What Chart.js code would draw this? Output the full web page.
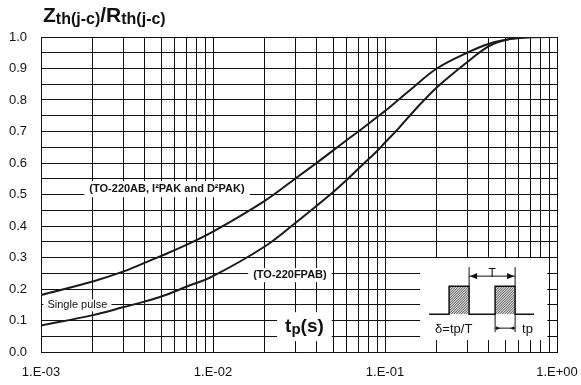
<!DOCTYPE html>
<html>
<head>
<meta charset="utf-8">
<script src="https://cdn.jsdelivr.net/npm/chart.js@4.4.0/dist/chart.umd.min.js"></script>
<style>
body { margin: 0; background: #fff; }
#chart { display: block; }
</style>
</head>
<body>
<canvas id="chart" width="581" height="385"></canvas>
<script>
var FONT = "'Liberation Sans', Arial, Helvetica, sans-serif";

// TO-220AB, I2PAK and D2PAK: pulse duration tp (s) and Zth/Rth
var tpAB  = [1e-3, 2e-3, 3e-3, 4e-3, 5e-3, 7e-3, 1e-2, 2e-2, 3e-2, 4e-2, 5e-2, 6e-2, 7e-2, 9e-2,
             1e-1, 1.4e-1, 2e-1, 3e-1, 4e-1, 5.5e-1, 7e-1, 1];
var zthAB = [0.181, 0.224, 0.255, 0.283, 0.305, 0.34, 0.382, 0.48, 0.55, 0.60, 0.64, 0.673, 0.70, 0.746,
             0.765, 0.832, 0.90, 0.95, 0.978, 0.995, 0.999, 1.0];

// TO-220FPAB
var tpFP  = [1e-3, 2e-3, 3e-3, 4e-3, 5e-3, 7e-3, 1e-2, 2e-2, 3e-2, 4e-2, 5e-2, 6e-2, 7e-2, 8e-2, 9e-2,
             1e-1, 1.2e-1, 1.5e-1, 2e-1, 3e-1, 4e-1, 5e-1, 6e-1, 7e-1, 1];
var zthFP = [0.084, 0.117, 0.142, 0.16, 0.176, 0.207, 0.241, 0.335, 0.409, 0.464, 0.508, 0.547, 0.582, 0.612, 0.638,
             0.665, 0.71, 0.77, 0.84, 0.92, 0.97, 0.99, 0.997, 1.0, 1.0];

// log grid lines on the time axis, and which of them get a label
var xGrid = [1e-3, 2e-3, 3e-3, 4e-3, 5e-3, 6e-3, 7e-3, 8e-3, 9e-3,
             1e-2, 2e-2, 3e-2, 4e-2, 5e-2, 6e-2, 7e-2, 8e-2, 9e-2,
             1e-1, 2e-1, 3e-1, 4e-1, 5e-1, 6e-1, 7e-1, 8e-1, 9e-1, 1];
var xLabelValues = [1e-3, 1e-2, 1e-1, 1];
var xLabels = ['1.E-03', '1.E-02', '1.E-01', '1.E+00'];

function toPoints(xs, ys) {
    var pts = [];
    for (var i = 0; i < xs.length; i++) {
        pts.push({x: xs[i], y: ys[i]});
    }
    return pts;
}

// boxedText draws text on a white patch so the grid is hidden behind it.
function boxedText(ctx, text, x, y, font, padX, padY, align) {
    ctx.font = font;
    var w = ctx.measureText(text).width;
    var left = align == 'left' ? x : x - w / 2;
    ctx.fillStyle = '#fff';
    ctx.fillRect(left - padX, y - 8 - padY, w + 2 * padX, 16 + 2 * padY);
    ctx.fillStyle = '#111';
    ctx.textBaseline = 'middle';
    ctx.textAlign = 'left';
    ctx.fillText(text, left, y);
}

function arrowHead(ctx, x, y, dir, size) {
    ctx.beginPath();
    ctx.moveTo(x, y);
    ctx.lineTo(x - dir * size, y - size / 2.2);
    ctx.lineTo(x - dir * size, y + size / 2.2);
    ctx.closePath();
    ctx.fill();
}

function hatchedPulse(ctx, x, y, w, h) {
    ctx.save();
    ctx.fillStyle = '#dcdcdc';
    ctx.fillRect(x, y, w, h);
    ctx.beginPath();
    ctx.rect(x, y, w, h);
    ctx.clip();
    ctx.strokeStyle = '#333';
    ctx.lineWidth = 0.8;
    ctx.beginPath();
    for (var d = -h; d < w + h; d += 2.5) {
        ctx.moveTo(x + d, y + h);
        ctx.lineTo(x + d + h, y);
    }
    ctx.stroke();
    ctx.restore();
}

var annotations = {
    id: 'annotations',
    beforeDatasetsDraw: function(chart) {
        var ctx = chart.ctx;
        var xs = chart.scales.x, ys = chart.scales.y;
        ctx.save();

        boxedText(ctx, '(TO-220AB, I\u00B2PAK and D\u00B2PAK)', xs.getPixelForValue(5.4e-3), ys.getPixelForValue(0.517),
                  'bold 11px ' + FONT, 5, 0, 'center');
        boxedText(ctx, '(TO-220FPAB)', xs.getPixelForValue(2.8e-2), ys.getPixelForValue(0.244),
                  'bold 11px ' + FONT, 5, -1, 'center');
        boxedText(ctx, 'Single pulse', xs.getPixelForValue(1.09e-3), ys.getPixelForValue(0.148),
                  '11px ' + FONT, 4, -2, 'left');

        // tp(s) axis title
        var cx = xs.getPixelForValue(3.4e-2);
        var base = ys.getPixelForValue(0.063);
        ctx.font = 'bold 19px ' + FONT;
        var wt = ctx.measureText('t').width, ws = ctx.measureText('(s)').width;
        ctx.font = 'bold 15px ' + FONT;
        var wp = ctx.measureText('p').width;
        var tot = wt + wp + ws;
        var l = cx - tot / 2;
        ctx.fillStyle = '#fff';
        ctx.fillRect(l - 8, base - 20, tot + 16, 29);
        ctx.fillStyle = '#111';
        ctx.textBaseline = 'alphabetic';
        ctx.textAlign = 'left';
        ctx.font = 'bold 19px ' + FONT;
        ctx.fillText('t', l, base);
        ctx.font = 'bold 15px ' + FONT;
        ctx.fillText('p', l + wt, base + 2);
        ctx.font = 'bold 19px ' + FONT;
        ctx.fillText('(s)', l + wt + wp, base);

        // duty cycle sketch
        var x0 = xs.getPixelForValue(0.16);
        var y0 = ys.getPixelForValue(0.298);
        ctx.fillStyle = '#fff';
        ctx.fillRect(x0, y0, 127, 82);

        var yb = y0 + 56, yt = y0 + 28;
        hatchedPulse(ctx, x0 + 29, yt, 20, yb - yt);
        hatchedPulse(ctx, x0 + 75, yt, 20, yb - yt);
        ctx.strokeStyle = '#111';
        ctx.lineWidth = 1.5;
        ctx.beginPath();
        ctx.moveTo(x0 + 9, yb);
        ctx.lineTo(x0 + 29, yb); ctx.lineTo(x0 + 29, yt); ctx.lineTo(x0 + 49, yt); ctx.lineTo(x0 + 49, yb);
        ctx.lineTo(x0 + 75, yb); ctx.lineTo(x0 + 75, yt); ctx.lineTo(x0 + 95, yt); ctx.lineTo(x0 + 95, yb);
        ctx.lineTo(x0 + 114, yb);
        ctx.stroke();

        ctx.lineWidth = 1;
        ctx.beginPath();
        ctx.moveTo(x0 + 49, y0 + 9); ctx.lineTo(x0 + 49, yt);
        ctx.moveTo(x0 + 95, y0 + 9); ctx.lineTo(x0 + 95, yt);
        ctx.moveTo(x0 + 49, y0 + 18); ctx.lineTo(x0 + 95, y0 + 18);
        ctx.moveTo(x0 + 75, yb); ctx.lineTo(x0 + 75, y0 + 74);
        ctx.moveTo(x0 + 95, yb); ctx.lineTo(x0 + 95, y0 + 74);
        ctx.moveTo(x0 + 75, y0 + 70); ctx.lineTo(x0 + 95, y0 + 70);
        ctx.stroke();
        ctx.fillStyle = '#111';
        arrowHead(ctx, x0 + 50, y0 + 18, -1, 7);
        arrowHead(ctx, x0 + 94, y0 + 18, 1, 7);
        arrowHead(ctx, x0 + 80, y0 + 70, 1, 4);
        arrowHead(ctx, x0 + 90, y0 + 70, -1, 4);

        ctx.font = '12px ' + FONT;
        ctx.textAlign = 'center';
        ctx.textBaseline = 'alphabetic';
        ctx.fillText('T', x0 + 72, y0 + 19);
        ctx.font = '13px ' + FONT;
        ctx.textAlign = 'left';
        ctx.textBaseline = 'middle';
        ctx.fillText('\u03B4=tp/T', x0 + 15, y0 + 71);
        ctx.fillText('tp', x0 + 102, y0 + 71);

        ctx.restore();
    },
    afterDraw: function(chart) {
        // Zth(j-c)/Rth(j-c) heading
        var ctx = chart.ctx;
        var x = chart.chartArea.left + 2;
        var parts = [['Z', 21, 0], ['th(j-c)', 16, 2], ['/', 21, 0], ['R', 21, 0], ['th(j-c)', 16, 2]];
        ctx.save();
        ctx.fillStyle = '#111';
        ctx.textBaseline = 'alphabetic';
        ctx.textAlign = 'left';
        for (var i = 0; i < parts.length; i++) {
            ctx.font = 'bold ' + parts[i][1] + 'px ' + FONT;
            ctx.fillText(parts[i][0], x, 22 + parts[i][2]);
            x += ctx.measureText(parts[i][0]).width;
        }
        ctx.restore();
    }
};

Chart.defaults.font.family = FONT;
Chart.defaults.color = '#111';

var conf = {
    type: 'line',
    data: {
        datasets: [
            {
                label: '(TO-220AB, I2PAK and D2PAK)',
                data: toPoints(tpAB, zthAB),
                borderColor: '#1a1a1a',
                borderWidth: 2,
                pointRadius: 0,
                tension: 0.35,
            },
            {
                label: '(TO-220FPAB)',
                data: toPoints(tpFP, zthFP),
                borderColor: '#1a1a1a',
                borderWidth: 2,
                pointRadius: 0,
                tension: 0.35,
            },
        ],
    },
    options: {
        responsive: false,
        animation: false,
        layout: {padding: {left: 0, top: 37, right: 24, bottom: 0}},
        plugins: {legend: {display: false}, tooltip: {enabled: false}},
        scales: {
            x: {
                type: 'logarithmic',
                min: 1e-3,
                max: 1,
                afterBuildTicks: function(s) {
                    s.ticks = xGrid.map(function(v) { return {value: v}; });
                },
                afterFit: function(s) {
                    s.height = 33;
                    s.paddingLeft = 0;
                    s.paddingRight = 0;
                },
                grid: {color: '#111', lineWidth: 1, drawTicks: false},
                border: {color: '#111', width: 1},
                ticks: {
                    autoSkip: false,
                    maxRotation: 0,
                    padding: 13,
                    font: {size: 13},
                    callback: function(v) {
                        var k = xLabelValues.indexOf(v);
                        return k >= 0 ? xLabels[k] : '';
                    },
                },
            },
            y: {
                min: 0,
                max: 1,
                afterFit: function(s) { s.width = 41; },
                grid: {color: '#111', lineWidth: 1, drawTicks: false},
                border: {color: '#111', width: 1},
                ticks: {
                    stepSize: 0.05,
                    autoSkip: false,
                    padding: 14,
                    font: {size: 13},
                    callback: function(v) {
                        var r = Math.round(v * 100);
                        return r % 10 == 0 ? (r / 100).toFixed(1) : '';
                    },
                },
            },
        },
    },
    plugins: [annotations],
};

new Chart(document.getElementById('chart').getContext('2d'), conf);
</script>
</body>
</html>
